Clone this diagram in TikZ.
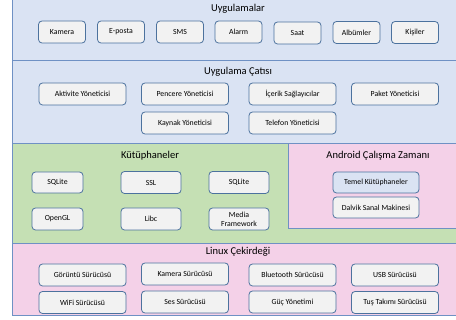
\documentclass[tikz,border=0pt]{standalone}
\usepackage{fontspec}
\setmainfont{Carlito}
\begin{document}
\begin{tikzpicture}[x=1pt,y=-1pt,
  layer/.style={draw=layerline,line width=0.9pt},
  title/.style={font=\fontsize{10.5}{12}\selectfont,text=black,inner sep=0pt},
  comp/.style={draw=boxline,fill=boxfill,rounded corners=3.5pt,line width=0.8pt,
    font=\fontsize{7.8}{9}\selectfont,inner sep=1pt,align=center,text=black},
  sm/.style={comp,minimum width=47pt,minimum height=22pt},
  wd/.style={comp,minimum width=87pt,minimum height=22pt},
  lb/.style={comp,minimum width=60pt,minimum height=22pt},
  rt/.style={comp,minimum width=86pt,minimum height=21pt}]
\definecolor{layerline}{HTML}{6F91C4}
\definecolor{boxline}{HTML}{4C729E}
\definecolor{boxfill}{HTML}{F2F2F2}
\definecolor{lblue}{HTML}{DAE3F3}
\definecolor{lgreen}{HTML}{C5E0B4}
\definecolor{lpink}{HTML}{F4D1E8}
\useasboundingbox (0,0) rectangle (456,320);
\fill[white] (0,0) rectangle (456,320);
\begin{scope}
\clip (0,0) rectangle (456,320);
% layers
\draw[layer,fill=lblue] (12,-5) rectangle (470,60);
\draw[layer,fill=lblue] (12,60) rectangle (470,143);
\draw[layer,fill=lgreen] (12,143) rectangle (470,243);
\draw[layer,fill=lpink] (288,143) rectangle (470,228);
\draw[layer,fill=lpink] (12,243) rectangle (470,315);
\end{scope}
% Uygulamalar
\node[title] (tapp) at (238,9) {Uygulamalar};
\node[sm] (kam) at (62,32) {Kamera};
\node[sm] (epo) at (121,32) {E-posta};
\node[sm] (sms) at (180,32) {SMS};
\node[sm] (alm) at (238.5,32) {Alarm};
\node[sm] (saat) at (297.5,33) {Saat};
\node[sm] (alb) at (356.5,32.5) {Albümler};
\node[sm] (kis) at (415,32.5) {Kişiler};
% Uygulama Catisi
\node[title] (tfw) at (238,72) {Uygulama Çatısı};
\node[wd] (akt) at (82.5,94) {Aktivite Yöneticisi};
\node[wd] (pen) at (185,94) {Pencere Yöneticisi};
\node[wd] (ice) at (292.5,94) {İçerik Sağlayıcılar};
\node[wd] (pak) at (395,94) {Paket Yöneticisi};
\node[wd] (kay) at (185,123) {Kaynak Yöneticisi};
\node[wd] (tel) at (292.5,123) {Telefon Yöneticisi};
% Kutuphaneler
\node[title] (tlib) at (150,156) {Kütüphaneler};
\node[comp,minimum width=51pt,minimum height=21pt] (sql1) at (57.5,182.5) {SQLite};
\node[lb] (ssl) at (151,182.5) {SSL};
\node[lb] (sql2) at (239,182.5) {SQLite};
\node[comp,minimum width=51pt,minimum height=22pt] (ogl) at (57.5,219) {OpenGL};
\node[lb] (libc) at (151,219) {Libc};
\node[lb] (media) at (239,219) {Media\\Framework};
% Android runtime
\node[title] (trt) at (378,156) {Android Çalışma Zamanı};
\node[rt,fill=lblue] (temel) at (376,182.5) {Temel Kütüphaneler};
\node[rt] (dalvik) at (376,207.5) {Dalvik Sanal Makinesi};
% Linux
\node[title] (tlin) at (238,252) {Linux Çekirdeği};
\node[wd] (gor) at (82.5,275) {Görüntü Sürücüsü};
\node[wd] (kams) at (185,274) {Kamera Sürücüsü};
\node[wd] (blu) at (292.5,275) {Bluetooth Sürücüsü};
\node[wd] (usb) at (395,275) {USB Sürücüsü};
\node[wd] (wifi) at (82.5,302.5) {WiFi Sürücüsü};
\node[wd] (ses) at (185,302) {Ses Sürücüsü};
\node[wd] (guc) at (292.5,302) {Güç Yönetimi};
\node[wd] (tus) at (395,302.5) {Tuş Takımı Sürücüsü};
\end{tikzpicture}
\end{document}
